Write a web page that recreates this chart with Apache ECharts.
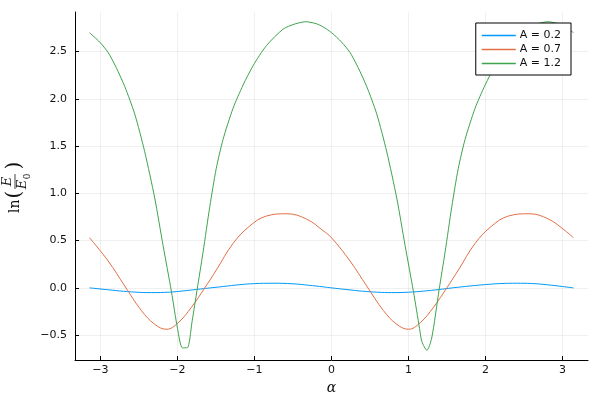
<!DOCTYPE html>
<html>
<head>
<meta charset="utf-8">
<script src="https://cdn.jsdelivr.net/npm/echarts@6/dist/echarts.min.js"></script>
<style>html,body{margin:0;padding:0;background:#fff}#c{width:600px;height:400px}</style>
</head>
<body>
<div id="c"></div>
<script>
// ---- data ----
const seriesNames = ['A = 0.2', 'A = 0.7', 'A = 1.2'];
const xTicks = [-3, -2, -1, 0, 1, 2, 3];
const yTicks = [-0.5, 0, 0.5, 1, 1.5, 2, 2.5];

const blueX = [-3.1416,-2.9,-2.7,-2.5,-2.34,-2.1,-1.9,-1.7,-1.57,-1.4,-1.2,-1.0,-0.76,-0.5,-0.3,-0.1,0,0.2,0.4,0.6,0.78,1.0,1.2,1.4,1.57,1.8,2.0,2.2,2.4,2.6,2.8,3.0,3.1416];
const blueY = [0,-0.02,-0.036,-0.047,-0.05,-0.045,-0.03,-0.012,0,0.015,0.033,0.045,0.049,0.043,0.028,0.01,0,-0.018,-0.035,-0.046,-0.05,-0.046,-0.034,-0.017,0,0.02,0.035,0.046,0.049,0.046,0.033,0.014,0];

const orangeX = [-3.1416,-2.90,-2.684,-2.468,-2.295,-2.143,-1.992,-1.818,-1.645,-1.494,-1.278,-1.061,-0.844,-0.577,-0.325,-0.109,
                 0,0.24,0.457,0.674,0.847,0.999,1.15,1.324,1.497,1.648,1.864,2.081,2.298,2.565,2.817,3.033,3.1416];
const orangeY = [0.53,0.285,0.02,-0.24,-0.385,-0.438,-0.37,-0.205,0.0,0.19,0.47,0.655,0.76,0.784,0.728,0.605,
                 0.53,0.285,0.02,-0.24,-0.385,-0.438,-0.37,-0.205,0.0,0.19,0.47,0.655,0.76,0.784,0.728,0.605,0.53];

const greenX = [-3.1416,-3.01,-2.90,-2.795,-2.684,-2.555,-2.425,-2.295,-2.187,-2.078,-1.999,-1.936,-1.872,-1.809,-1.745,-1.667,-1.58,-1.497,-1.408,-1.278,-1.148,-1.018,-0.844,-0.628,-0.48,-0.334,-0.2,-0.109,
                0,0.13,0.24,0.346,0.457,0.587,0.717,0.847,0.955,1.064,1.143,1.174,1.238,1.301,1.397,1.475,1.562,1.645,1.734,1.864,1.994,2.124,2.298,2.514,2.662,2.808,2.942,3.033,3.1416];
const greenY = [2.70,2.60,2.49,2.33,2.13,1.84,1.44,0.95,0.45,-0.04,-0.43,-0.634,-0.634,-0.35,-0.02,0.38,0.86,1.26,1.57,1.90,2.145,2.35,2.563,2.737,2.79,2.815,2.795,2.76,
                2.70,2.60,2.49,2.33,2.13,1.84,1.44,0.95,0.45,-0.04,-0.43,-0.57,-0.66,-0.53,-0.02,0.38,0.86,1.26,1.57,1.90,2.145,2.35,2.563,2.737,2.79,2.815,2.795,2.76,2.70];

const colors = ['#009AFA', '#E36F47', '#3EA44E'];
const xs = [blueX, orangeX, greenX];
const ys = [blueY, orangeY, greenY];
const smooths = [0.4, 0.4, 0.25];

function fmt(v, d) {
  const s = Math.abs(v).toFixed(d);
  return v < 0 ? '\u2212' + s : s;
}

const chart = echarts.init(document.getElementById('c'), null, {renderer: 'canvas'});
const axisCommon = {
  axisLine: {show: true, onZero: false, lineStyle: {color: '#000', width: 1}},
  splitLine: {show: true, lineStyle: {color: 'rgba(0,0,0,0.1)', width: 0.6}},
};
chart.setOption({
  animation: false,
  backgroundColor: '#fff',
  color: colors,
  grid: {left: 75, right: 12, top: 12, bottom: 38, containLabel: false},
  xAxis: Object.assign({
    type: 'value', min: -3.330, max: 3.330,
    axisTick: {show: true, inside: true, length: 4, customValues: xTicks, lineStyle: {color: '#000'}},
    axisLabel: {customValues: xTicks, margin: 5, fontFamily: 'DejaVu Sans', fontSize: 11, color: '#111',
      formatter: v => fmt(v, 0)},
    name: '\u03B1', nameLocation: 'middle', nameGap: 17,
    nameTextStyle: {fontFamily: 'DejaVu Serif', fontStyle: 'italic', fontSize: 14, color: '#111'}
  }, axisCommon),
  yAxis: Object.assign({
    type: 'value', min: -0.764, max: 2.918,
    axisTick: {show: true, inside: true, length: 4, customValues: yTicks, lineStyle: {color: '#000'}},
    axisLabel: {customValues: yTicks, margin: 8, fontFamily: 'DejaVu Sans', fontSize: 11, color: '#111',
      formatter: v => fmt(v, 1)}
  }, axisCommon),
  legend: {
    orient: 'vertical', right: 29, top: 23,
    backgroundColor: '#fff', borderColor: '#000', borderWidth: 1, borderRadius: 0,
    padding: [6, 10, 5, 6], itemWidth: 34, itemHeight: 1.3, itemGap: 1,
    icon: 'rect',
    textStyle: {fontFamily: 'DejaVu Sans', fontSize: 11, color: '#111', lineHeight: 13, height: 13, padding: [0,0,0,-1]},
    data: seriesNames
  },
  series: seriesNames.map((n, i) => ({
    name: n, type: 'line', symbol: 'none', showSymbol: false,
    smooth: smooths[i],
    lineStyle: {width: 1, color: colors[i]},
    itemStyle: {color: colors[i]},
    data: xs[i].map((x, k) => [x, ys[i][k]])
  })),
  graphic: [{
    type: 'group', x: 15, y: 182, rotation: Math.PI / 2,
    children: [
      {type: 'text', x: -31, y: 0, style: {text: 'ln', fontFamily: 'DejaVu Serif', fontSize: 14, fill: '#111', align: 'left', verticalAlign: 'middle'}},
      {type: 'text', x: -12.5, y: 0, style: {text: '(', fontFamily: 'DejaVu Serif', fontSize: 20, fill: '#111', align: 'center', verticalAlign: 'middle'}},
      {type: 'text', x: 0.5, y: -0.5, style: {text: 'E', fontFamily: 'DejaVu Serif', fontStyle: 'italic', fontSize: 13, fill: '#111', align: 'center', verticalAlign: 'bottom'}},
      {type: 'line', shape: {x1: -7, y1: 0, x2: 8, y2: 0}, style: {stroke: '#111', lineWidth: 0.8}},
      {type: 'text', x: -2.5, y: 1, style: {text: 'E', fontFamily: 'DejaVu Serif', fontStyle: 'italic', fontSize: 13, fill: '#111', align: 'center', verticalAlign: 'top'}},
      {type: 'text', x: 5.5, y: 8, style: {text: '0', fontFamily: 'DejaVu Serif', fontSize: 9, fill: '#111', align: 'center', verticalAlign: 'top'}},
      {type: 'text', x: 16.5, y: 0, style: {text: ')', fontFamily: 'DejaVu Serif', fontSize: 20, fill: '#111', align: 'center', verticalAlign: 'middle'}}
    ]
  }]
});
</script>
</body>
</html>
